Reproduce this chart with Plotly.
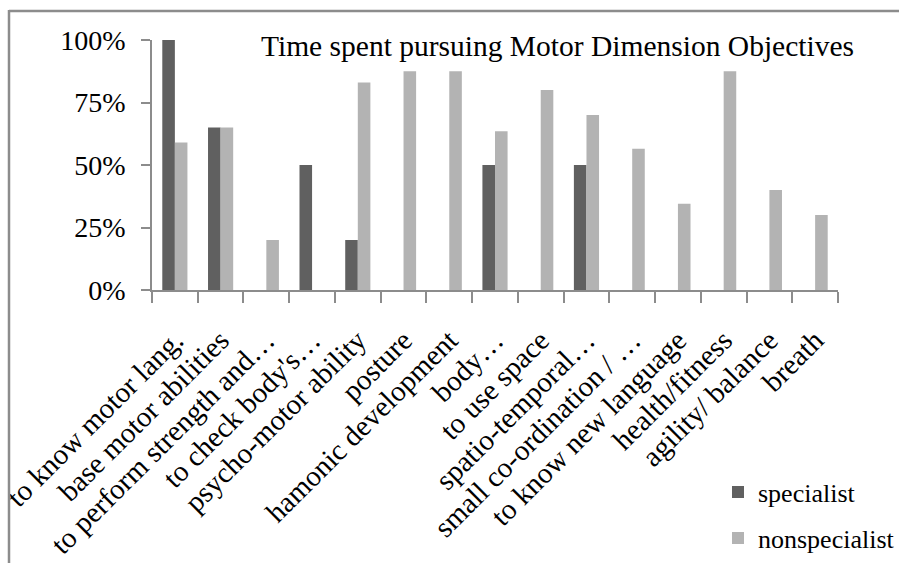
import plotly.graph_objects as go

categories = ["to know motor lang.", "base motor abilities", "to perform strength and\u2026",
              "to check body's\u2026", "psycho-motor ability", "posture", "hamonic development",
              "body\u2026", "to use space", "spatio-temporal\u2026", "small co-ordination / \u2026",
              "to know new language", "health/fitness", "agility/ balance", "breath"]
specialist = [100, 65, 0, 50, 20, 0, 0, 50, 0, 50, 0, 0, 0, 0, 0]
nonspecialist = [59, 65, 20, 0, 83, 87.5, 87.5, 63.5, 80, 70, 56.5, 34.5, 87.5, 40, 30]
y_ticks = [0, 25, 50, 75, 100]
y_tick_labels = ["0%", "25%", "50%", "75%", "100%"]
title_text = "Time spent pursuing Motor Dimension Objectives"

W, H = 899, 563
L, R, T, B = 152, 61, 40, 273
pw, ph = W - L - R, H - T - B

def px_x(x):
    return (x - L) / pw

def px_y(y):
    return (H - B - y) / ph

FONT = "Liberation Serif, Times New Roman, serif"

fig = go.Figure()
fig.add_trace(go.Bar(x=categories, y=specialist, name="specialist", legend="legend",
                     marker=dict(color="#606060", line=dict(width=0))))
fig.add_trace(go.Bar(x=categories, y=nonspecialist, name="nonspecialist", legend="legend2",
                     marker=dict(color="#b3b3b3", line=dict(width=0))))

leg_common = dict(xanchor="left", yanchor="middle", bgcolor="rgba(0,0,0,0)",
                  font=dict(family=FONT, size=26), itemwidth=30,
                  xref="container", yref="container")

fig.update_layout(
    width=W, height=H,
    margin=dict(l=L, r=R, t=T, b=B, pad=0, autoexpand=False),
    paper_bgcolor="white", plot_bgcolor="white",
    font=dict(family=FONT, size=27, color="black"),
    barmode="group", bargap=0.45, bargroupgap=0,
    showlegend=True,
    legend=dict(x=718 / W, y=1 - 492 / H, **leg_common),
    legend2=dict(x=718 / W, y=1 - 538 / H, **leg_common),
    xaxis=dict(type="category", showline=True, linecolor="#8c8c8c", linewidth=1.5,
               ticks="outside", ticklen=11, tickcolor="#8c8c8c", tickwidth=1.5,
               tickson="boundaries", tickangle=-45, showgrid=False,
               ticklabelstandoff=20,
               tickfont=dict(family=FONT, size=29)),
    yaxis=dict(range=[0, 100], tickvals=y_ticks, ticktext=y_tick_labels,
               showline=True, linecolor="#8c8c8c", linewidth=1.5,
               ticks="outside", ticklen=9, tickcolor="#8c8c8c", tickwidth=1.5,
               showgrid=False, zeroline=False, ticklabelstandoff=10,
               tickfont=dict(family=FONT, size=28)),
    annotations=[dict(text=title_text, xref="paper", yref="paper",
                      x=px_x(856), y=px_y(46), xanchor="right", yanchor="middle",
                      showarrow=False, font=dict(family=FONT, size=29.5))],
    shapes=[
        dict(type="line", xref="paper", yref="paper", x0=px_x(9), x1=px_x(905),
             y0=px_y(11), y1=px_y(11), line=dict(color="#8c8c8c", width=2.5)),
        dict(type="line", xref="paper", yref="paper", x0=px_x(9), x1=px_x(9),
             y0=px_y(10), y1=px_y(570), line=dict(color="#8c8c8c", width=2.5)),
    ],
)

fig.write_html("out.html")
